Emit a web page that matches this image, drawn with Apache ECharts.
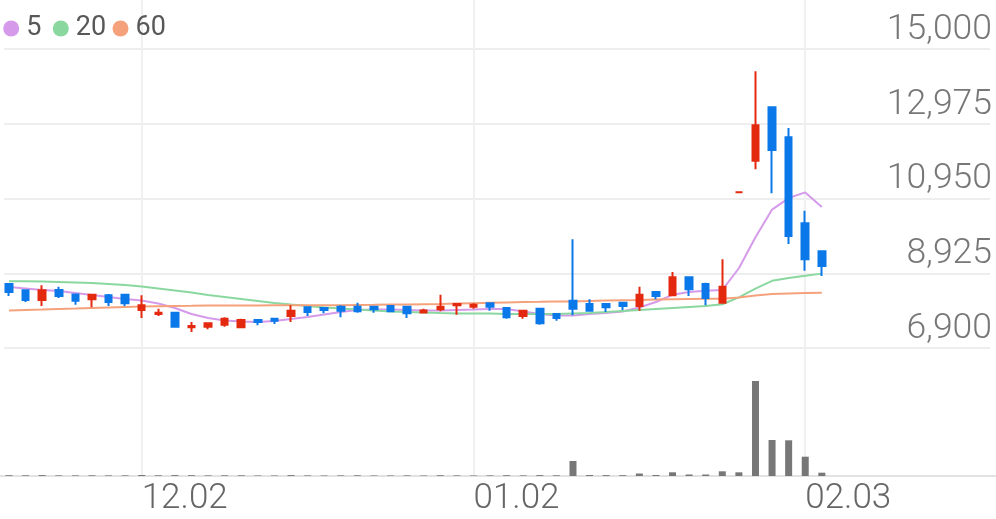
<!DOCTYPE html>
<html><head><meta charset="utf-8">
<script src="https://cdn.jsdelivr.net/npm/echarts@6/dist/echarts.min.js"></script>
<style>html,body{margin:0;padding:0;background:#fff}#c{width:996px;height:519px}</style>
</head><body><div id="c"></div>
<script>
const dates = ['11.20','11.21','11.22','11.25','11.26','11.27','11.28','11.29','12.02','12.03',
  '12.04','12.05','12.06','12.09','12.10','12.11','12.12','12.13','12.16','12.17',
  '12.18','12.19','12.20','12.23','12.24','12.26','12.27','12.30','01.02','01.03',
  '01.06','01.07','01.08','01.09','01.10','01.13','01.14','01.15','01.16','01.17',
  '01.20','01.21','01.22','01.23','01.28','01.29','01.30','01.31','02.03','02.04',
  '02.05','02.06','02.07','02.10','02.11','02.12','02.13','02.14','02.17','02.18'];
const tickLabels = ['12.02','01.02','02.03'];
const maNames = ['5', '20', '60'];
const priceMin = 6900, priceMax = 15000, priceStep = 2025;

const opens  = [8634,8465,8200,8471,8350,8219,8328,8345,7929,7820,7856,7460,7477,7530,7460,7659,7694,7767,8003,7983,8019,8019,8019,8037,8019,7862,7948,8057,8019,8110,7983,7767,7965,7820,8182,8092,8092,8127,8037,8417,8328,8815,8634,8128,11120,11974,13421,12608,10278,9520];
const closes = [8417,8200,8465,8309,8182,8345,8146,8110,8057,7855,7477,7495,7570,7694,7659,7605,7640,7910,7875,7929,7910,7893,7948,7893,7840,7916,8019,8094,8073,8019,7730,7910,7568,7713,7965,7910,8003,8037,8345,8309,8815,8490,8255,8560,11120,12933,12264,9934,9303,9122];
const lows   = [8309,8146,8037,8254,8073,8003,8037,8037,7713,7767,7460,7334,7405,7477,7440,7515,7550,7605,7767,7840,7730,7856,7856,7875,7713,7862,7893,7802,7965,7910,7694,7694,7530,7640,7785,7893,7875,7929,7910,8220,8328,8309,8057,8128,11120,11741,11091,9717,8994,8850];
const highs  = [8661,8480,8600,8560,8363,8350,8363,8350,8328,7965,7875,7605,7580,7731,7694,7665,7700,8057,8010,7990,8057,8127,8025,8057,8025,7965,8345,8110,8110,8115,8003,7915,7970,7825,9845,8220,8100,8135,8560,8436,8959,8832,8670,9303,11120,14396,13421,12860,10620,9520];
const volumes = [40000,35000,45000,30000,30000,35000,30000,30000,50000,35000,45000,40000,30000,35000,35000,25000,25000,45000,30000,25000,30000,35000,25000,25000,30000,25000,40000,30000,25000,30000,40000,30000,45000,35000,750000,50000,45000,40000,125000,50000,185000,75000,75000,235000,185000,4750000,1800000,1785000,965000,165000];
const ma5  = [8553,8512,8471,8444,8390,8336,8282,8228,8187,8105,7984,7821,7713,7645,7618,7604,7631,7686,7740,7808,7875,7930,7943,7943,7930,7916,7916,7930,7943,7957,7957,7889,7821,7781,7781,7821,7848,7889,7997,8146,8340,8420,8452,8471,9060,9900,10650,10962,11115,10720];
const ma20 = [8707,8707,8702,8688,8674,8661,8634,8607,8566,8512,8458,8404,8336,8282,8228,8173,8119,8078,8038,7997,7970,7943,7916,7889,7875,7862,7848,7835,7835,7835,7821,7821,7821,7821,7835,7848,7875,7903,7930,7957,7984,8011,8038,8085,8270,8510,8720,8795,8855,8915];
const ma60 = [7916,7930,7943,7957,7970,7984,7997,8011,8024,8032,8038,8043,8049,8051,8051,8054,8057,8057,8057,8057,8059,8065,8070,8076,8081,8086,8092,8103,8113,8124,8135,8146,8151,8157,8162,8173,8184,8195,8200,8211,8219,8227,8233,8235,8268,8322,8363,8376,8390,8398];

const candles = opens.map((o, i) => [o, closes[i], lows[i], highs[i]]);
const UP = '#E3290E', DOWN = '#0A78E8';
const MA_COLORS = ['#D59BEA', '#8AD8A0', '#F5A27C'];
const FONT = 'Roboto';
const isTick = (i, v) => tickLabels.indexOf(v) >= 0;
const L = 0.7, R = 0;
const legendLefts = [3.2, 52.8, 112.5];

const legends = maNames.map((n, k) => ({
  data: [n], left: legendLefts[k], top: 15, padding: 0, icon: 'circle', itemWidth: 20, itemHeight: 16,
  textStyle: {fontFamily: FONT, fontSize: 27, color: '#585858'}
}));

const chart = echarts.init(document.getElementById('c'));
chart.setOption({
  animation: false,
  backgroundColor: '#fff',
  legend: legends,
  grid: [
    {left: L, right: R, top: 49, height: 299},
    {left: L, right: R, top: 366, height: 110},
    {left: L, right: R, top: 0, height: 476},
    {left: 4, right: 6, top: 49, height: 299}
  ],
  xAxis: [
    {type: 'category', gridIndex: 0, data: dates, show: false},
    {type: 'category', gridIndex: 1, data: dates, show: false},
    {type: 'category', gridIndex: 2, data: dates,
      axisLine: {show: true, lineStyle: {color: '#e2e2e2', width: 2}},
      axisTick: {show: false},
      axisLabel: {interval: isTick, align: 'left', margin: 6, fontFamily: FONT, fontSize: 35, fontWeight: 300, color: '#666'},
      splitLine: {show: true, interval: isTick, alignWithLabel: true, lineStyle: {color: '#f0f0f0', width: 2}}},
    {type: 'category', gridIndex: 3, data: dates, show: false}
  ],
  yAxis: [
    {type: 'value', gridIndex: 0, min: priceMin, max: priceMax, show: false},
    {type: 'value', gridIndex: 1, min: 0, max: 5500000, show: false},
    {type: 'value', gridIndex: 2, min: 0, max: 1, show: false},
    {type: 'value', gridIndex: 3, min: priceMin, max: priceMax, interval: priceStep, position: 'right',
      axisLine: {show: false}, axisTick: {show: false},
      splitLine: {show: true, lineStyle: {color: '#eeeeee', width: 2}},
      axisLabel: {inside: true, margin: -2, verticalAlign: 'bottom', showMinLabel: true, showMaxLabel: true,
        fontFamily: FONT, fontSize: 35.5, fontWeight: 300, color: '#777', lineHeight: 38,
        formatter: v => v.toLocaleString('en-US')}}
  ],
  series: [
    {name: maNames[0], type: 'line', xAxisIndex: 0, yAxisIndex: 0, data: ma5, showSymbol: false, z: 2,
      itemStyle: {color: MA_COLORS[0]}, lineStyle: {color: MA_COLORS[0], width: 2}},
    {name: maNames[1], type: 'line', xAxisIndex: 0, yAxisIndex: 0, data: ma20, showSymbol: false, z: 2,
      itemStyle: {color: MA_COLORS[1]}, lineStyle: {color: MA_COLORS[1], width: 2}},
    {name: maNames[2], type: 'line', xAxisIndex: 0, yAxisIndex: 0, data: ma60, showSymbol: false, z: 2,
      itemStyle: {color: MA_COLORS[2]}, lineStyle: {color: MA_COLORS[2], width: 2}},
    {name: 'price', type: 'candlestick', xAxisIndex: 0, yAxisIndex: 0, data: candles, barWidth: 7, z: 3,
      itemStyle: {color: UP, color0: DOWN, borderColor: UP, borderColor0: DOWN, borderColorDoji: UP, borderWidth: 2}},
    {name: 'volume', type: 'bar', xAxisIndex: 1, yAxisIndex: 1, data: volumes, barWidth: 7,
      itemStyle: {color: '#777'}}
  ]
});
</script>
</body></html>
